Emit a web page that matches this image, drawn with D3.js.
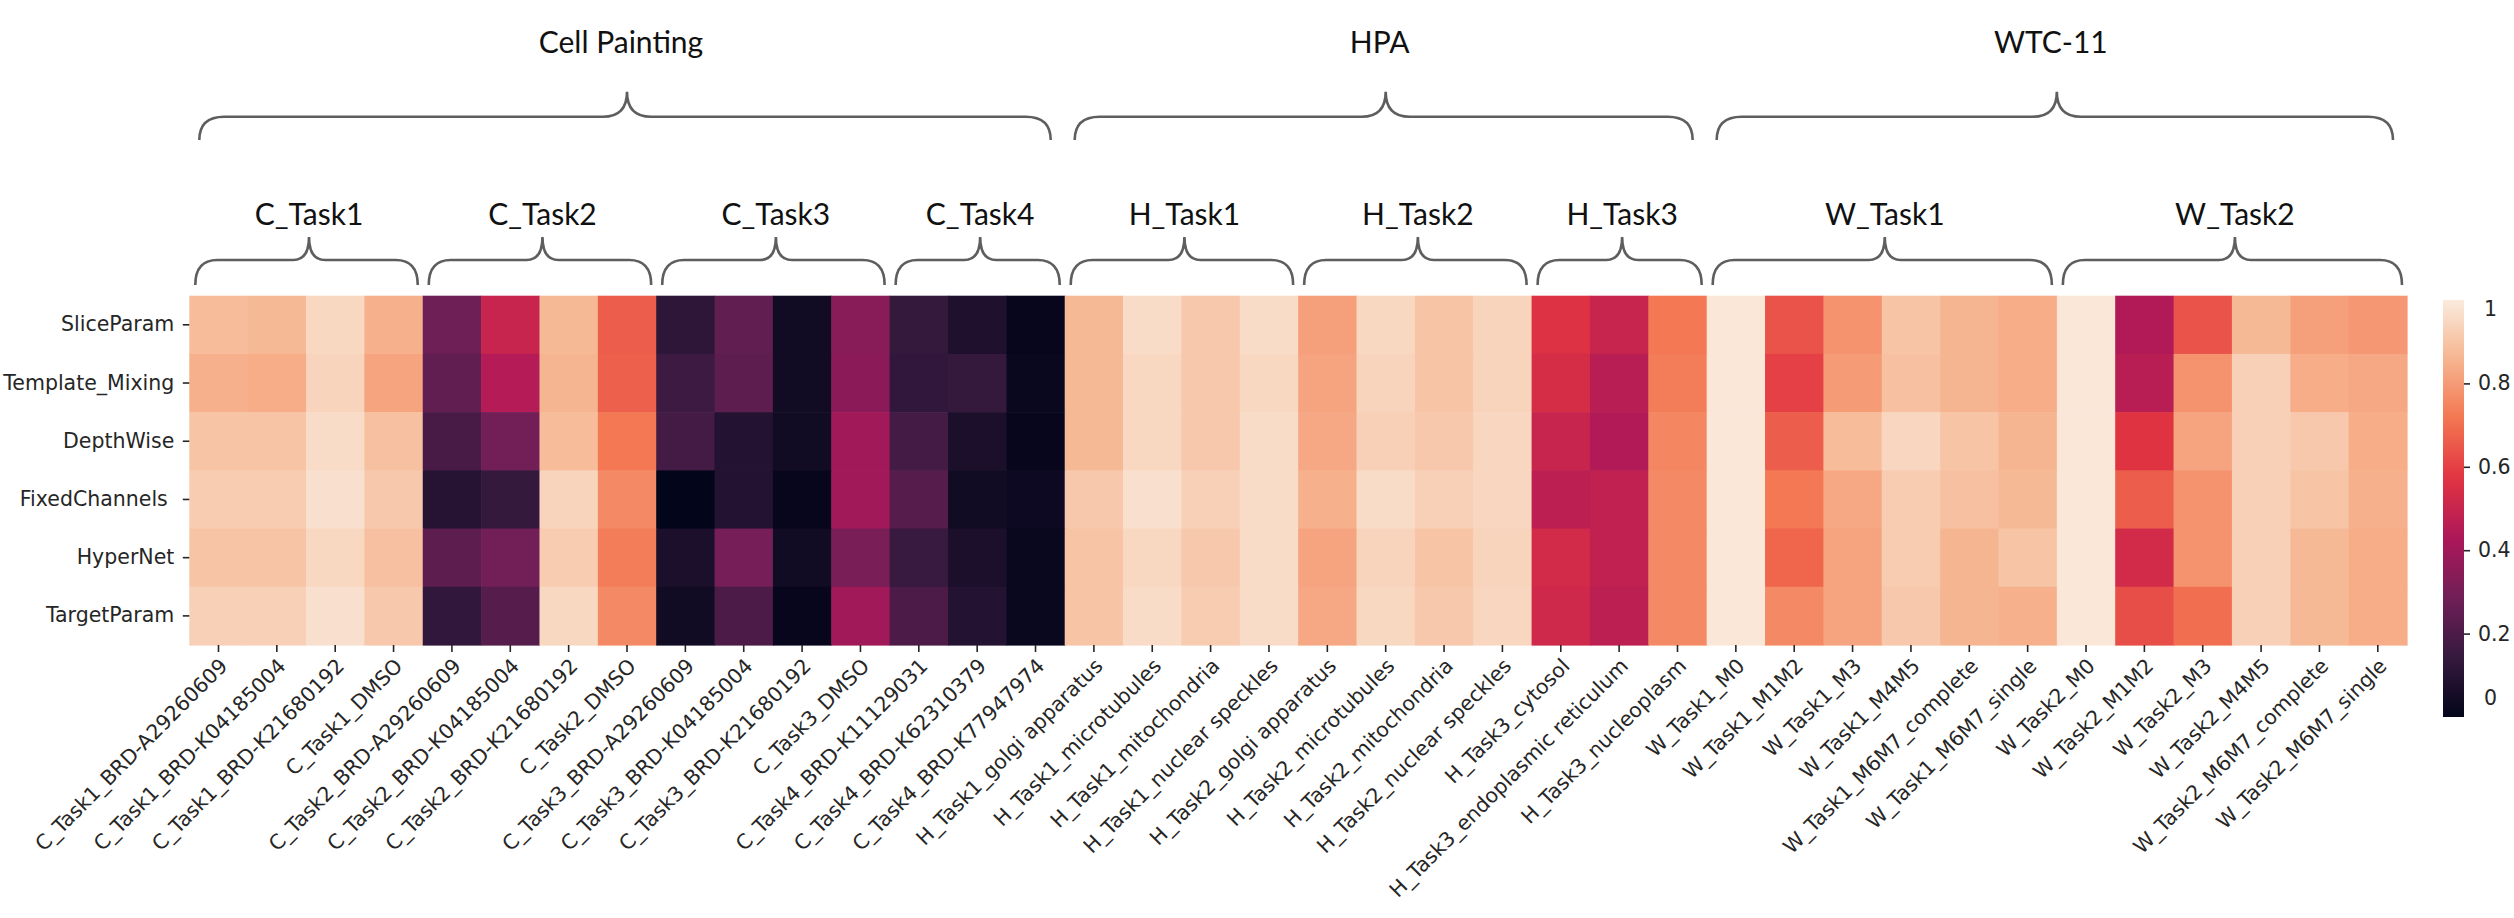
<!DOCTYPE html>
<html>
<head>
<meta charset="utf-8">
<script src="https://cdn.jsdelivr.net/npm/d3@7"></script>
<style>
  html, body { margin: 0; padding: 0; background: #ffffff; }
  svg text { white-space: pre; }
</style>
</head>
<body>
<svg id="chart" width="2514" height="918"></svg>
<script>
// ---------------- DATA ----------------
const columns = [
  "C_Task1_BRD-A29260609", "C_Task1_BRD-K04185004", "C_Task1_BRD-K21680192", "C_Task1_DMSO",
  "C_Task2_BRD-A29260609", "C_Task2_BRD-K04185004", "C_Task2_BRD-K21680192", "C_Task2_DMSO",
  "C_Task3_BRD-A29260609", "C_Task3_BRD-K04185004", "C_Task3_BRD-K21680192", "C_Task3_DMSO",
  "C_Task4_BRD-K11129031", "C_Task4_BRD-K62310379", "C_Task4_BRD-K77947974",
  "H_Task1_golgi apparatus", "H_Task1_microtubules", "H_Task1_mitochondria", "H_Task1_nuclear speckles",
  "H_Task2_golgi apparatus", "H_Task2_microtubules", "H_Task2_mitochondria", "H_Task2_nuclear speckles",
  "H_Task3_cytosol", "H_Task3_endoplasmic reticulum", "H_Task3_nucleoplasm",
  "W_Task1_M0", "W_Task1_M1M2", "W_Task1_M3", "W_Task1_M4M5", "W_Task1_M6M7_complete", "W_Task1_M6M7_single",
  "W_Task2_M0", "W_Task2_M1M2", "W_Task2_M3", "W_Task2_M4M5", "W_Task2_M6M7_complete", "W_Task2_M6M7_single"
];

const models = ["SliceParam", "Template_Mixing", "DepthWise", "FixedChannels ", "HyperNet", "TargetParam"];

const sliceParam     = [.88,.87,.95,.85, .28,.50,.87,.66, .12,.25,.04,.34, .14,.08,.01, .87,.96,.91,.96, .81,.95,.90,.94, .56,.50,.72, .99,.64,.78,.90,.86,.84, .99,.44,.64,.87,.81,.79];
const templateMixing = [.85,.84,.94,.82, .25,.45,.86,.67, .16,.24,.04,.35, .13,.14,.02, .87,.95,.91,.95, .82,.94,.90,.94, .54,.46,.73, .99,.60,.80,.89,.86,.84, .99,.46,.78,.93,.84,.83];
const depthWise      = [.90,.90,.96,.89, .19,.29,.88,.72, .18,.09,.04,.40, .18,.07,.01, .87,.95,.91,.96, .83,.93,.91,.945,.50,.44,.75, .99,.66,.88,.945,.90,.86, .99,.57,.82,.93,.91,.84];
const fixedChannels  = [.92,.92,.97,.91, .10,.14,.94,.76, .00,.09,.01,.40, .22,.04,.03, .91,.97,.93,.96, .85,.96,.93,.945,.47,.48,.76, .99,.72,.83,.92,.89,.87, .99,.66,.78,.93,.90,.85];
const hyperNet       = [.90,.90,.95,.89, .24,.29,.92,.73, .07,.30,.04,.31, .15,.07,.02, .90,.95,.91,.96, .82,.94,.90,.94, .53,.48,.76, .99,.68,.82,.92,.86,.90, .99,.53,.78,.93,.87,.84];
const targetParam    = [.93,.93,.97,.91, .13,.22,.95,.76, .04,.20,.01,.40, .20,.09,.02, .90,.96,.92,.96, .83,.95,.91,.945,.52,.47,.76, .99,.76,.82,.91,.86,.85, .99,.63,.70,.93,.87,.84];

const subGroupNames = ["C_Task1", "C_Task2", "C_Task3", "C_Task4", "H_Task1", "H_Task2", "H_Task3", "W_Task1", "W_Task2"];
const subGroupSizes = [4, 4, 4, 3, 4, 4, 3, 6, 6];
const topGroupNames = ["Cell Painting", "HPA", "WTC-11"];
const topGroupSizes = [15, 11, 12];

const colorbarTicks = [0.2, 0.4, 0.6, 0.8];
const colorbarEndLabels = ["0", "1"];

// ---------------- BUILD ----------------
const rowValues = [sliceParam, templateMixing, depthWise, fixedChannels, hyperNet, targetParam];
const cells = [];
models.forEach((m, i) => columns.forEach((c, j) => cells.push({ row: m, col: c, value: rowValues[i][j] })));

// seaborn "rocket" colormap approximation
const rocketStops = ["#03051a", "#35193e", "#701f57", "#ad1759", "#e13342", "#f37651", "#f6b48f", "#faebdd"];
const color = d3.scaleLinear()
  .domain(rocketStops.map((_, i) => i / (rocketStops.length - 1)))
  .range(rocketStops)
  .interpolate(d3.interpolateRgb)
  .clamp(true);

const svg = d3.select("#chart");

const x = d3.scaleBand().domain(columns).range([189.3, 2407]).padding(0);
const y = d3.scaleBand().domain(models).range([295.7, 645]).padding(0);

// cells
svg.append("g")
  .selectAll("rect")
  .data(cells)
  .join("rect")
  .attr("x", d => x(d.col))
  .attr("y", d => y(d.row))
  .attr("width", x.bandwidth() + 0.6)
  .attr("height", y.bandwidth() + 0.6)
  .attr("fill", d => color(d.value));

const tickFont = "'DejaVu Sans', sans-serif";

// y axis
const yAxis = svg.append("g")
  .attr("transform", "translate(189.3,0)")
  .call(d3.axisLeft(y).tickSize(6.5).tickPadding(8.5));
yAxis.select(".domain").remove();
yAxis.selectAll(".tick line").attr("stroke", "#262626").attr("stroke-width", 1.6);
yAxis.selectAll(".tick text")
  .attr("font-family", tickFont)
  .attr("font-size", 20.5)
  .attr("fill", "#262626");

// x axis
const xAxis = svg.append("g")
  .attr("transform", "translate(0,645)")
  .call(d3.axisBottom(x).tickSize(7).tickFormat(""));
xAxis.select(".domain").remove();
xAxis.selectAll(".tick line").attr("stroke", "#262626").attr("stroke-width", 1.6);

svg.append("g")
  .selectAll("text")
  .data(columns)
  .join("text")
  .attr("transform", d => `translate(${x(d) + x.bandwidth() / 2 + 5},662) rotate(-45)`)
  .attr("text-anchor", "end")
  .attr("dy", "0.36em")
  .attr("font-family", tickFont)
  .attr("font-size", 20.5)
  .attr("fill", "#262626")
  .text(d => d);

// braces
function bracePath(x1, x2, xt, yEnd, yLine, yTip, r, tw) {
  return `M${x1},${yEnd} Q${x1},${yLine} ${x1 + r},${yLine} L${xt - tw},${yLine} Q${xt},${yLine} ${xt},${yTip}` +
         ` Q${xt},${yLine} ${xt + tw},${yLine} L${x2 - r},${yLine} Q${x2},${yLine} ${x2},${yEnd}`;
}

function groupSpans(sizes) {
  let start = 0;
  return sizes.map(n => {
    const a = x(columns[start]);
    const b = x(columns[start + n - 1]) + x.bandwidth();
    start += n;
    return [a, b];
  });
}

const labelFont = "Lato, 'Open Sans', sans-serif";
const braceColor = "#5e5e5e";

const subSpans = groupSpans(subGroupSizes);
const subG = svg.append("g");
subSpans.forEach(([a, b], i) => {
  const xt = (a + b) / 2 + 3;
  subG.append("path")
    .attr("d", bracePath(a + 6, b - 5, xt, 285, 260, 237, 22, 16))
    .attr("fill", "none").attr("stroke", braceColor).attr("stroke-width", 2.6);
  subG.append("text")
    .attr("x", xt).attr("y", 225)
    .attr("text-anchor", "middle")
    .attr("font-family", labelFont).attr("font-size", 30)
    .attr("fill", "#111")
    .text(subGroupNames[i]);
});

const topSpans = groupSpans(topGroupSizes);
const topG = svg.append("g");
topSpans.forEach(([a, b], i) => {
  const xt = (a + b) / 2;
  topG.append("path")
    .attr("d", bracePath(a + 10, b - 14, xt, 140, 116.7, 91.7, 25, 24))
    .attr("fill", "none").attr("stroke", braceColor).attr("stroke-width", 2.6);
  topG.append("text")
    .attr("x", xt - 6).attr("y", 53)
    .attr("text-anchor", "middle")
    .attr("font-family", labelFont).attr("font-size", 30)
    .attr("fill", "#111")
    .text(topGroupNames[i]);
});

// colorbar
const cb = d3.scaleLinear().domain([0, 1]).range([717, 300]);
const defs = svg.append("defs");
const grad = defs.append("linearGradient").attr("id", "cbgrad")
  .attr("x1", 0).attr("y1", 1).attr("x2", 0).attr("y2", 0);
d3.range(0, 1.0001, 0.02).forEach(t => {
  grad.append("stop").attr("offset", t).attr("stop-color", color(t));
});
svg.append("rect")
  .attr("x", 2443).attr("y", cb(1))
  .attr("width", 21).attr("height", cb(0) - cb(1))
  .attr("fill", "url(#cbgrad)");

const cbAxis = svg.append("g")
  .attr("transform", "translate(2464,0)")
  .call(d3.axisRight(cb).tickValues(colorbarTicks).tickSize(6).tickPadding(8).tickFormat(d3.format(".1f")));
cbAxis.select(".domain").remove();
cbAxis.selectAll(".tick line").attr("stroke", "#262626").attr("stroke-width", 1.6);
cbAxis.selectAll(".tick text")
  .attr("font-family", tickFont).attr("font-size", 20.5).attr("fill", "#262626");

svg.append("g")
  .selectAll("text")
  .data(colorbarEndLabels)
  .join("text")
  .attr("x", 2484)
  .attr("y", d => d === "1" ? cb(1) + 9 : cb(0) - 19)
  .attr("dy", "0.36em")
  .attr("font-family", tickFont).attr("font-size", 20.5).attr("fill", "#262626")
  .text(d => d);
</script>
</body>
</html>
